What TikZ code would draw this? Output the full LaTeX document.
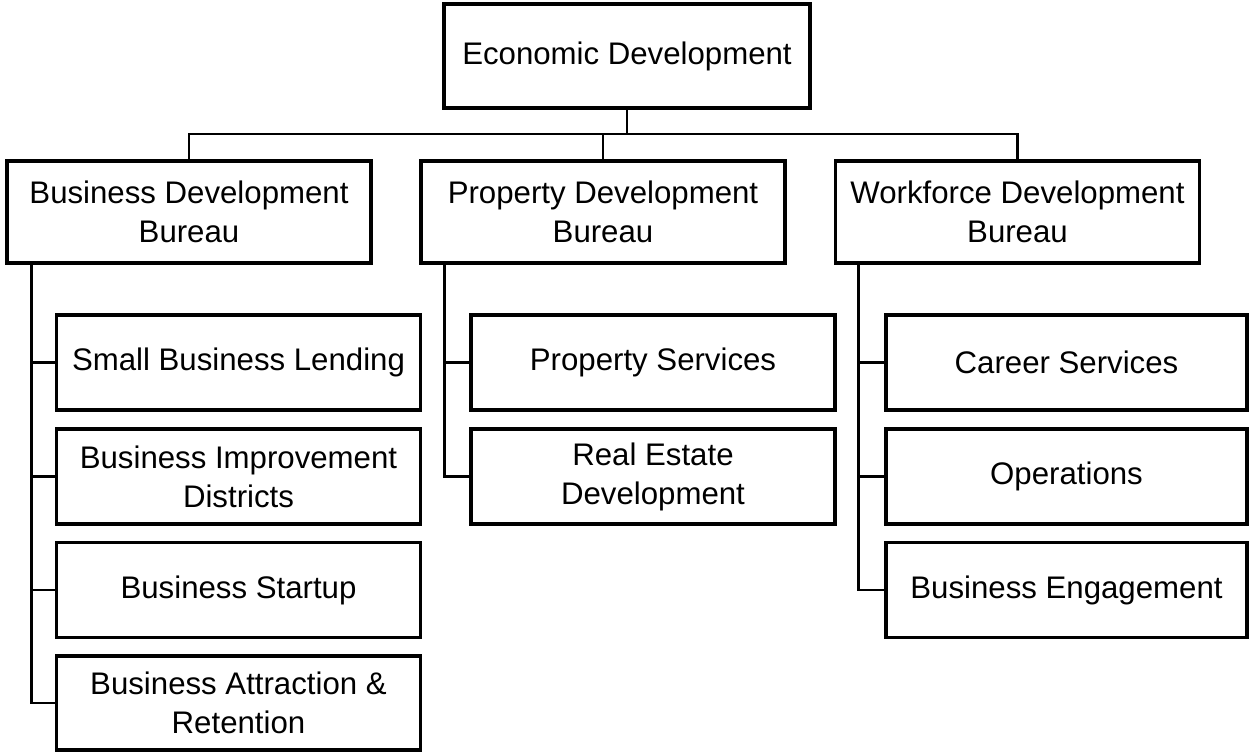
\documentclass[tikz,border=0pt]{standalone}
\usepackage{fontspec}
\setmainfont{Liberation Sans}

\begin{document}
\begin{tikzpicture}[x=0.5pt,y=-0.5pt]
					\tikzstyle{unit}=[draw,line width=1.7pt,rectangle,inner sep=0pt,align=center,minimum width=182pt,minimum height=47.5pt,font=\fontsize{15.6}{19.5}\selectfont]
					\tikzstyle{head}=[unit,minimum height=51pt]
					\tikzstyle{link}=[line width=1.4pt]
					\useasboundingbox (0,0) rectangle (1249,752);
					% top and bureaus
					\node[unit,line width=2pt,minimum width=183pt,minimum height=52pt] (econ) at (627,56) {Economic Development};
					\node[head] (bdb) at (189,212) {Business Development\\Bureau};
					\node[head] (pdb) at (603,212) {Property Development\\Bureau};
					\node[head] (wdb) at (1017.5,212) {Workforce Development\\Bureau};
					% business development
					\node[unit] (sbl) at (238.5,362.5) {Small Business Lending};
					\node[unit] (bid) at (238.5,476.5) {Business Improvement\\Districts};
					\node[unit] (bst) at (238.5,590) {Business Startup};
					\node[unit,minimum height=47pt] (bar) at (238.5,703) {Business Attraction \&\\Retention};
					% property development
					\node[unit] (psv) at (653,362.5) {Property Services};
					\node[unit] (red) at (653,476.5) {Real Estate\\Development};
					% workforce development
					\node[unit,minimum width=180.5pt] (csv) at (1066.5,362.5) {Career Services};
					\node[unit,minimum width=180.5pt] (ops) at (1066.5,476.5) {Operations};
					\node[unit,minimum width=180.5pt] (beg) at (1066.5,590) {Business Engagement};
					% rails
					\coordinate (rail) at (0,134);
					\draw[link] (econ.south) -- (econ.south |- rail);
					\draw[link] (bdb.north) -- (bdb.north |- rail) -- (wdb.north |- rail) -- (wdb.north);
					\draw[link] (pdb.north) -- (pdb.north |- rail);
					\foreach \c in {sbl,bid,bst,bar}
						\draw[link] ([xshift=13pt]bdb.south west) |- (\c.west);
					\foreach \c in {psv,red}
						\draw[link] ([xshift=12.5pt]pdb.south west) |- (\c.west);
					\foreach \c in {csv,ops,beg}
						\draw[link] ([xshift=12.5pt]wdb.south west) |- (\c.west);
\end{tikzpicture}
\end{document}
